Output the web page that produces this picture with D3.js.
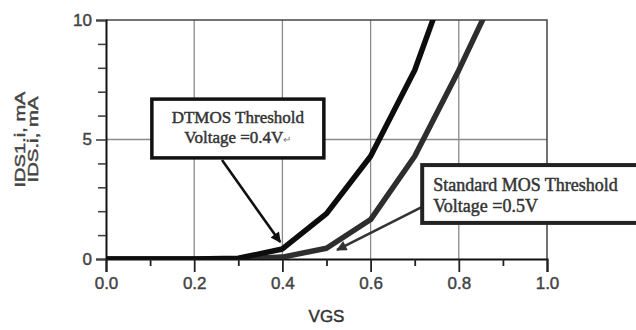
<!DOCTYPE html>
<html><head><meta charset="utf-8">
<script src="https://cdn.jsdelivr.net/npm/d3@7"></script>
<style>html,body{margin:0;padding:0;background:#fff;}svg{display:block;}</style>
</head><body>
<script>
const vgs = [0.0, 0.1, 0.2, 0.3, 0.4, 0.5, 0.6, 0.7, 0.8, 0.9];
const dtmos = [0, 0, 0, 0.03, 0.42, 1.9, 4.3, 7.9, 13.0, 18.5];
const stdmos = [0, 0, 0, 0, 0.08, 0.45, 1.65, 4.3, 7.9, 11.8];
const xTicks = [0.0, 0.2, 0.4, 0.6, 0.8, 1.0];
const xMinor = [0.1, 0.3, 0.5, 0.7, 0.9];
const yTicks = [0, 5, 10];
const yMinor = [1, 2, 3, 4, 6, 7, 8, 9];
const xGrid = [0.2, 0.4, 0.6, 0.8];
const yGrid = [5];
const yTitleLines = ["IDS1.i, mA", "IDS.i, mA"];
const xTitle = "VGS";
const dtmosNote = ["DTMOS Threshold", "Voltage =0.4V"];
const stdNote = ["Standard MOS Threshold", "Voltage =0.5V"];

const W = 636, H = 330;
const x = d3.scaleLinear().domain([0, 1]).range([106, 547]);
const y = d3.scaleLinear().domain([0, 10]).range([259, 20]);
const SANS = "Liberation Sans, Arial, sans-serif";
const SERIF = "Liberation Serif, Times New Roman, serif";

const svg = d3.select("body").append("svg").attr("width", W).attr("height", H);
svg.append("rect").attr("width", W).attr("height", H).attr("fill", "#fff");

svg.append("defs").append("clipPath").attr("id", "plot")
  .append("rect").attr("x", x(0)).attr("y", y(10)).attr("width", x(1) - x(0)).attr("height", y(0) - y(10));

function bolden(sel, c) { return sel.attr("stroke", c).attr("stroke-width", 0.45).attr("paint-order", "stroke"); }

// grid
svg.selectAll(".gx").data(xGrid).enter().append("line")
  .attr("x1", d => x(d)).attr("x2", d => x(d)).attr("y1", y(0)).attr("y2", y(10))
  .attr("stroke", "#8a8a8a").attr("stroke-width", 1.3);
svg.selectAll(".gy").data(yGrid).enter().append("line")
  .attr("x1", x(0)).attr("x2", x(1)).attr("y1", d => y(d)).attr("y2", d => y(d))
  .attr("stroke", "#8a8a8a").attr("stroke-width", 1.3);

// frame top/right
svg.append("path").attr("d", `M${x(0)},${y(10)}H${x(1)}V${y(0)}`)
  .attr("fill", "none").attr("stroke", "#444").attr("stroke-width", 1.5);

// axes
const xAxis = d3.axisBottom(x).tickValues(xTicks).tickFormat(d3.format(".1f")).tickSize(13).tickPadding(5);
const gx = svg.append("g").attr("transform", `translate(0,${y(0)})`).call(xAxis);
gx.select(".domain").attr("stroke", "#111").attr("stroke-width", 2);
gx.selectAll(".tick line").attr("stroke", "#222").attr("stroke-width", 1.8);
bolden(gx.selectAll("text").attr("font-family", SANS).attr("font-size", 17).attr("fill", "#444"), "#444");
const gxm = svg.append("g").attr("transform", `translate(0,${y(0)})`)
  .call(d3.axisBottom(x).tickValues(xMinor).tickSize(7).tickFormat(""));
gxm.select(".domain").remove();
gxm.selectAll(".tick line").attr("stroke", "#222").attr("stroke-width", 1.8);

const yAxis = d3.axisLeft(y).tickValues(yTicks).tickFormat(d3.format("d")).tickSize(10).tickPadding(4);
const gy = svg.append("g").attr("transform", `translate(${x(0)},0)`).call(yAxis);
gy.select(".domain").attr("stroke", "#111").attr("stroke-width", 2);
gy.selectAll(".tick line").attr("stroke", "#444").attr("stroke-width", 1.6);
bolden(gy.selectAll("text").attr("font-family", SANS).attr("font-size", 17).attr("fill", "#444"), "#444");
const gym = svg.append("g").attr("transform", `translate(${x(0)},0)`)
  .call(d3.axisLeft(y).tickValues(yMinor).tickSize(8).tickFormat(""));
gym.select(".domain").remove();
gym.selectAll(".tick line").attr("stroke", "#444").attr("stroke-width", 1.6);

// curves
const line = d3.line().x((d, i) => x(vgs[i])).y(d => y(d));
const cg = svg.append("g").attr("clip-path", "url(#plot)");
cg.append("path").attr("d", line(stdmos)).attr("fill", "none")
  .attr("stroke", "#2e2e2e").attr("stroke-width", 5.5).attr("stroke-linejoin", "round");
cg.append("path").attr("d", line(dtmos)).attr("fill", "none")
  .attr("stroke", "#0d0d0d").attr("stroke-width", 5.5).attr("stroke-linejoin", "round");

// titles
bolden(svg.append("text").attr("x", x(0.5)).attr("y", 322).attr("text-anchor", "middle")
  .attr("font-family", SANS).attr("font-size", 17).attr("fill", "#333").text(xTitle), "#333");
const yt = svg.append("g").attr("transform", `translate(0,${y(5)}) rotate(-90)`);
yTitleLines.forEach((t, i) => {
  bolden(yt.append("text").attr("x", 0).attr("y", 25 + i * 13).attr("text-anchor", "middle")
    .attr("font-family", SANS).attr("font-size", 15).attr("fill", "#444")
    .attr("textLength", i === 0 ? 96 : 86).attr("lengthAdjust", "spacingAndGlyphs").text(t), "#444");
});

// arrow markers
const defs = svg.select("defs");
[["ahBlack", "#111"], ["ahGray", "#333"]].forEach(([id, c]) => {
  defs.append("marker").attr("id", id).attr("viewBox", "0 0 10 10").attr("refX", 9).attr("refY", 5)
    .attr("markerWidth", 5).attr("markerHeight", 4).attr("markerUnits", "strokeWidth").attr("orient", "auto")
    .append("path").attr("d", "M0,0L10,5L0,10z").attr("fill", c);
});

// DTMOS annotation
const bx1 = {x0: 0.104, x1: 0.494, y0: 6.69, y1: 4.23};
svg.append("line").attr("x1", x(0.263)).attr("y1", y(4.14)).attr("x2", x(0.395)).attr("y2", y(0.71))
  .attr("stroke", "#111").attr("stroke-width", 2.6).attr("marker-end", "url(#ahBlack)");
svg.append("rect").attr("x", x(bx1.x0)).attr("y", y(bx1.y0)).attr("width", x(bx1.x1) - x(bx1.x0)).attr("height", y(bx1.y1) - y(bx1.y0))
  .attr("fill", "#fff").attr("stroke", "#111").attr("stroke-width", 3.5);
const cx1 = (x(bx1.x0) + x(bx1.x1)) / 2;
bolden(svg.append("text").attr("x", cx1).attr("y", 123).attr("text-anchor", "middle")
  .attr("font-family", SERIF).attr("font-size", 17).attr("fill", "#333").text(dtmosNote[0]), "#333");
const t2 = bolden(svg.append("text").attr("x", cx1).attr("y", 143).attr("text-anchor", "middle")
  .attr("font-family", SERIF).attr("font-size", 17).attr("fill", "#333"), "#333");
t2.append("tspan").text(dtmosNote[1]);
t2.append("tspan").attr("font-size", 10).attr("fill", "#777").attr("stroke", "none").text("\u21b5");

// Standard annotation
const bx2 = {x0: 0.717, x1: 1.23, y0: 3.93, y1: 1.51};
svg.append("line").attr("x1", x(0.717)).attr("y1", y(2.18)).attr("x2", x(0.524)).attr("y2", y(0.38))
  .attr("stroke", "#333").attr("stroke-width", 2.6).attr("marker-end", "url(#ahGray)");
svg.append("rect").attr("x", x(bx2.x0)).attr("y", y(bx2.y0)).attr("width", x(bx2.x1) - x(bx2.x0)).attr("height", y(bx2.y1) - y(bx2.y0))
  .attr("fill", "#fff").attr("stroke", "#222").attr("stroke-width", 4);
stdNote.forEach((t, i) => {
  bolden(svg.append("text").attr("x", x(bx2.x0) + 11).attr("y", 191 + i * 21)
    .attr("font-family", SERIF).attr("font-size", 18).attr("fill", "#333").text(t), "#333");
});
</script>
</body></html>
